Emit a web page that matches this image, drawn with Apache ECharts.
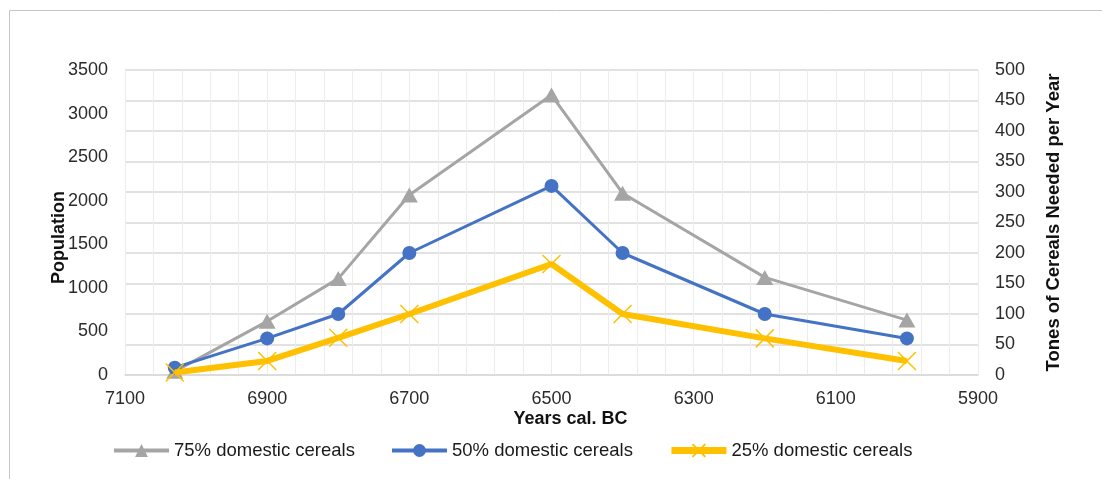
<!DOCTYPE html>
<html>
<head>
<meta charset="utf-8">
<title>Population and cereal needs</title>
<script src="https://cdn.jsdelivr.net/npm/echarts@6/dist/echarts.min.js"></script>
<style>
  html, body { margin: 0; padding: 0; background: #ffffff; }
  #chart { width: 1102px; height: 479px; }
</style>
</head>
<body>
<div id="chart"></div>
<script>
// Years cal. BC for each estimate
const years = [7030, 6900, 6800, 6700, 6500, 6400, 6200, 6000];
// Tonnes of cereals needed per year
const cereals75 = [6, 88, 158, 295, 459, 298, 160, 90];
const cereals50 = [12, 60, 100, 200, 310, 200, 100, 60];
const cereals25 = [4, 23, 61, 100, 182, 100, 60, 23];

const seriesNames = ['75% domestic cereals', '50% domestic cereals', '25% domestic cereals'];

// The time axis runs from 7100 BC (left) to 5900 BC (right);
// positions are counted as years elapsed since 7100 BC.
const START_YEAR = 7100;
const END_YEAR = 5900;
const toAxis = y => START_YEAR - y;
const pairs = vals => years.map((y, i) => [toAxis(y), vals[i]]);

const FONT = "'Liberation Sans', Arial, sans-serif";
const labelColor = '#2b2b2b';
const titleColor = '#111111';

const chart = echarts.init(document.getElementById('chart'), null, { renderer: 'canvas' });

chart.setOption({
  animation: false,
  backgroundColor: '#ffffff',
  textStyle: { fontFamily: FONT },
  graphic: [{
    type: 'rect',
    shape: { x: 9.5, y: 10.5, width: 1200, height: 600 },
    style: { fill: 'none', stroke: '#c6c6c6', lineWidth: 1 },
    silent: true
  }],
  grid: { left: 125, right: 124, top: 70, bottom: 104, containLabel: false },
  legend: {
    left: 107,
    top: 436,
    itemWidth: 55,
    itemHeight: 16,
    itemGap: 35,
    textStyle: { fontFamily: FONT, fontSize: 18.5, color: '#1a1a1a' },
    data: [
      { name: seriesNames[0], lineStyle: { width: 4 } },
      { name: seriesNames[1], lineStyle: { width: 4 } },
      { name: seriesNames[2], lineStyle: { width: 7 } }
    ]
  },
  xAxis: {
    type: 'value',
    min: 0,
    max: START_YEAR - END_YEAR,
    interval: 200,
    name: 'Years cal. BC',
    nameLocation: 'middle',
    nameGap: 35,
    nameMoveOverlap: false,
    nameTextStyle: { fontFamily: FONT, fontSize: 18, fontWeight: 'bold', color: titleColor, lineHeight: 18, padding: [0, 0, 0, 38] },
    axisLine: { show: true, lineStyle: { color: '#d9d9d9', width: 1.5 } },
    axisTick: { show: false },
    axisLabel: {
      margin: 15,
      fontFamily: FONT, fontSize: 18, color: labelColor, lineHeight: 18,
      formatter: v => String(START_YEAR - v)
    },
    splitLine: { show: true, lineStyle: { color: '#ececec', width: 1 } },
    minorTick: { show: false, splitNumber: 5 },
    minorSplitLine: { show: true, lineStyle: { color: '#ececec', width: 1 } }
  },
  yAxis: [{
    type: 'value',
    position: 'left',
    min: 0,
    max: 3500,
    interval: 500,
    name: 'Population',
    nameLocation: 'middle',
    nameRotate: 90,
    nameGap: 57,
    nameMoveOverlap: false,
    nameTextStyle: { fontFamily: FONT, fontSize: 18, fontWeight: 'bold', color: titleColor, lineHeight: 18, padding: [0, 30, 0, 0] },
    axisLine: { show: false },
    axisTick: { show: false },
    axisLabel: { margin: 17, fontFamily: FONT, fontSize: 18, color: labelColor, formatter: v => String(v) },
    splitLine: { show: false }
  }, {
    type: 'value',
    position: 'right',
    min: 0,
    max: 500,
    interval: 50,
    name: 'Tones of Cereals Needed per Year',
    nameLocation: 'middle',
    nameRotate: 90,
    nameGap: 67,
    nameMoveOverlap: false,
    nameTextStyle: { fontFamily: FONT, fontSize: 18.5, fontWeight: 'bold', color: titleColor, lineHeight: 18 },
    axisLine: { show: false },
    axisTick: { show: false },
    axisLabel: { margin: 17, fontFamily: FONT, fontSize: 18, color: labelColor, formatter: v => String(v) },
    splitLine: { show: true, lineStyle: { color: '#d9d9d9', width: 1.5 } }
  }],
  series: [{
    name: seriesNames[0],
    type: 'line',
    yAxisIndex: 1,
    data: pairs(cereals75),
    symbol: 'triangle',
    symbolSize: [17, 15],
    lineStyle: { color: '#a5a5a5', width: 3 },
    itemStyle: { color: '#a5a5a5', borderWidth: 0 },
    z: 2
  }, {
    name: seriesNames[1],
    type: 'line',
    yAxisIndex: 1,
    data: pairs(cereals50),
    symbol: 'circle',
    symbolSize: 14,
    lineStyle: { color: '#4472c4', width: 3 },
    itemStyle: { color: '#4472c4', borderWidth: 0 },
    z: 3
  }, {
    name: seriesNames[2],
    type: 'line',
    yAxisIndex: 1,
    data: pairs(cereals25),
    symbol: 'path://M0,0L16,16M16,0L0,16',
    symbolSize: 18,
    lineStyle: { color: '#ffc000', width: 6 },
    itemStyle: { color: '#ffc000', borderColor: '#ffc000', borderWidth: 1.5 },
    z: 4
  }]
});
</script>
</body>
</html>
